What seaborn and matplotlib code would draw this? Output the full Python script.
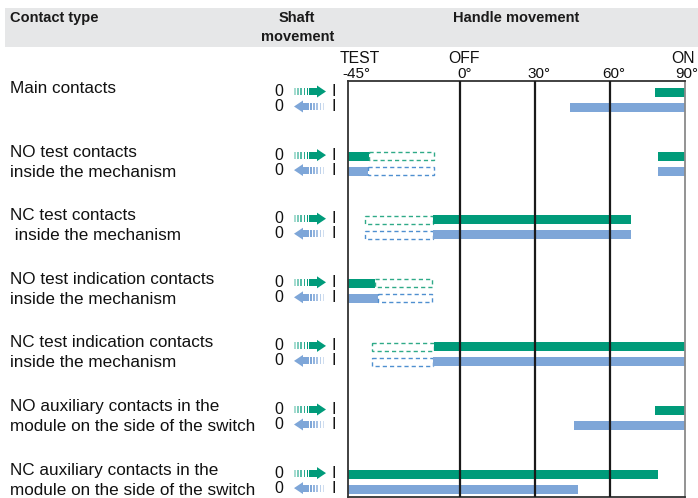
import matplotlib
matplotlib.use("Agg")
import matplotlib.pyplot as plt
import matplotlib.patches as mpatches
from matplotlib.transforms import offset_copy
import seaborn as sns
import pandas as pd

sns.set_theme(style="white")
plt.rcParams["font.family"] = ["Liberation Sans", "DejaVu Sans"]

# ---------------- data ----------------
contact_types = [
    "Main contacts",
    "NO test contacts\ninside the mechanism",
    "NC test contacts\n inside the mechanism",
    "NO test indication contacts\ninside the mechanism",
    "NC test indication contacts\ninside the mechanism",
    "NO auxiliary contacts in the\nmodule on the side of the switch",
    "NC auxiliary contacts in the\nmodule on the side of the switch",
]

deg_ticks = [-45, 0, 30, 60, 90]
deg_labels = ["-45°", "0°", "30°", "60°", "90°"]
pos_ticks = [-45, 0, 90]
pos_labels = ["TEST", "OFF", "ON"]

# closing movement 0 -> I (green)
close_row   = [0, 1, 1, 1, 2, 2, 3, 3, 4, 4, 5, 6]
close_start = [78, -45, -36.5, 79, -38, -11, -45, -34, -35.5, -10.5, 78, -45]
close_end   = [90, -36.5, -10.5, 90, -11, 68.5, -34, -11.5, -10.5, 90, 90, 79]
close_dash  = [0, 0, 1, 0, 1, 0, 0, 1, 1, 0, 0, 0]

# opening movement I -> 0 (blue)
open_row   = [0, 1, 1, 1, 2, 2, 3, 3, 4, 4, 5, 6]
open_start = [44, -45, -37, 79, -38, -11, -45, -33, -35.5, -11, 45.5, -45]
open_end   = [90, -37, -10.5, 90, -11, 68.5, -33, -11.5, -11, 90, 90, 47]
open_dash  = [0, 0, 1, 0, 1, 0, 0, 1, 1, 0, 0, 0]

GREEN = "#009b7a"
BLUE = "#7ea6d8"
GREEN_D = "#2faa88"
BLUE_D = "#4f8fd0"

df = pd.concat([
    pd.DataFrame({"row": close_row, "start": close_start, "end": close_end,
                  "dashed": close_dash, "move": "close"}),
    pd.DataFrame({"row": open_row, "start": open_start, "end": open_end,
                  "dashed": open_dash, "move": "open"}),
], ignore_index=True)

# ---------------- layout ----------------
W, H = 698, 498
fig = plt.figure(figsize=(W / 100, H / 100), dpi=100)

bg = fig.add_axes([0, 0, 1, 1], zorder=0)
bg.set_xlim(0, W)
bg.set_ylim(H, 0)
bg.axis("off")

ax_l, ax_r, ax_t, ax_b = 348, 685, 81, 497
ax = fig.add_axes([ax_l / W, (H - ax_b) / H, (ax_r - ax_l) / W, (ax_b - ax_t) / H], zorder=1)

row_px = 63.6        # pixels per contact group
first_px = 92.5      # centre of first green bar
sub = 15.0 / row_px  # offset of the blue bar inside a group
bar_h = 9.0 / row_px
ax.set_xlim(-45, 90)
ax.set_ylim((ax_b - first_px) / row_px, (ax_t - first_px) / row_px)

for _, r in df.iterrows():
    y = r["row"] + (0 if r["move"] == "close" else sub)
    if r["dashed"]:
        ec = GREEN_D if r["move"] == "close" else BLUE_D
        ax.barh(y, r["end"] - r["start"], left=r["start"], height=bar_h * 0.85,
                fill=False, edgecolor=ec, linewidth=1.0, linestyle=(0, (3, 2.2)), zorder=2)
    else:
        c = GREEN if r["move"] == "close" else BLUE
        ax.barh(y, r["end"] - r["start"], left=r["start"], height=bar_h,
                color=c, linewidth=0, zorder=2)

for d in [0, 30, 60]:
    ax.axvline(d, color="#1a1a1a", lw=1.6, zorder=3)

ax.set_xticks([])
ax.set_yticks([])
for s in ["left", "top", "bottom"]:
    ax.spines[s].set_color("#333333")
    ax.spines[s].set_linewidth(1.3)
ax.spines["right"].set_color("#8a8a8a")
ax.spines["right"].set_linewidth(1.3)

# axis labels on top
xt = ax.get_xaxis_transform()
for d, lab in zip(deg_ticks, deg_labels):
    if d == -45:
        ha, dx = "left", -6
    elif d == 90:
        ha, dx = "right", 13
    else:
        ha, dx = "center", 4
    ax.text(d, 1, lab, transform=offset_copy(xt, fig, x=dx, y=3, units="dots"),
            ha=ha, va="baseline", fontsize=11, color="#111111", clip_on=False)
for d, lab in zip(pos_ticks, pos_labels):
    if d == -45:
        ha, dx = "left", -8
    elif d == 90:
        ha, dx = "right", 10
    else:
        ha, dx = "center", 4
    ax.text(d, 1, lab, transform=offset_copy(xt, fig, x=dx, y=18, units="dots"),
            ha=ha, va="baseline", fontsize=11.3, color="#111111", clip_on=False)

# header band
bg.add_patch(mpatches.Rectangle((5, 8), W - 5, 39, color="#e6e7e8", lw=0))
hdr = dict(fontsize=10.5, fontweight="bold", color="#1a1a1a", va="center")
bg.text(10, 18, "Contact type", ha="left", **hdr)
bg.text(297, 18, "Shaft", ha="center", **hdr)
bg.text(298, 37, "movement", ha="center", **hdr)
bg.text(516, 18, "Handle movement", ha="center", **hdr)


def icon(yc, direction, color):
    bg.text(279, yc, "0", ha="center", va="center", fontsize=11.5, color="#111111")
    bg.text(334, yc, "I", ha="center", va="center", fontsize=11.5, color="#111111")
    hh = 3.5
    if direction == "right":
        for k, x0 in enumerate([294, 297.2, 300.4, 303.6, 306.8]):
            bg.add_patch(mpatches.Rectangle((x0, yc - hh), 1.6, 2 * hh, color=color,
                                            alpha=0.35 + 0.16 * k, lw=0))
        bg.add_patch(mpatches.Rectangle((308.5, yc - hh), 10, 2 * hh, color=color, lw=0))
        bg.add_patch(mpatches.Polygon([(317, yc - 6), (326, yc), (317, yc + 6)],
                                      color=color, lw=0))
    else:
        bg.add_patch(mpatches.Polygon([(303, yc - 6), (294, yc), (303, yc + 6)],
                                      color=color, lw=0))
        bg.add_patch(mpatches.Rectangle((302, yc - hh), 7, 2 * hh, color=color, lw=0))
        for k, x0 in enumerate([310, 313.2, 316.4, 319.6, 322.8]):
            bg.add_patch(mpatches.Rectangle((x0, yc - hh), 1.6, 2 * hh, color=color,
                                            alpha=1.0 - 0.16 * k, lw=0))


for i, name in enumerate(contact_types):
    yg = first_px + i * row_px
    for j, line in enumerate(name.split("\n")):
        bg.text(10, yg + 0.5 + 20 * j, line, ha="left", va="baseline",
                fontsize=12.3, color="#111111")
    icon(yg - 1, "right", GREEN)
    icon(yg + 14, "left", BLUE)

fig.savefig("out.png", dpi=100)
